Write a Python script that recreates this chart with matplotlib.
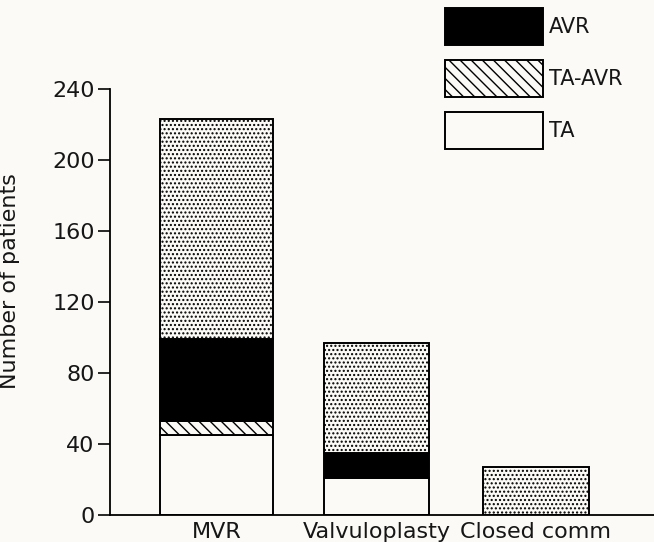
import matplotlib.pyplot as plt
import numpy as np
from matplotlib.patches import Patch

plt.rcParams["font.family"] = ["DejaVu Sans"]
plt.rcParams["hatch.linewidth"] = 1.0

procedures = ["MVR", "Valvuloplasty", "Closed comm"]

# stacked segments, bottom to top
ta = np.array([45, 21, 0])
ta_avr = np.array([8, 0, 0])
avr = np.array([46, 14, 0])
other = np.array([124, 62, 27])

widths = [0.71, 0.66, 0.66]
yticks = [0, 40, 80, 120, 160, 200, 240]

BG = "#fbfaf6"
INK = "#161616"


def main() -> None:
    fig = plt.figure(figsize=(6.54, 5.42), dpi=100, facecolor=BG)
    ax = fig.add_axes([0.168, 0.05, 0.832, 0.786], facecolor=BG)

    x = np.arange(len(procedures))
    bottom = np.zeros(len(procedures))
    segments = [
        (ta, dict(facecolor=BG, hatch=None)),
        (ta_avr, dict(facecolor=BG, hatch="\\\\\\")),
        (avr, dict(facecolor="black", hatch=None)),
        (other, dict(facecolor=BG, hatch="....")),
    ]
    for vals, style in segments:
        for i in range(len(procedures)):
            if vals[i] == 0:
                continue
            ax.bar(x[i], vals[i], width=widths[i], bottom=bottom[i],
                   edgecolor="black", linewidth=1.4, **style)
        bottom = bottom + vals

    ax.set_xlim(-0.67, 2.74)
    ax.set_ylim(0, 240)
    ax.set_yticks(yticks)
    ax.set_xticks(x, labels=procedures)
    ax.tick_params(axis="y", direction="out", length=9, width=1.3,
                   labelsize=16, pad=2, colors=INK)
    ax.tick_params(axis="x", length=0, labelsize=16, pad=5, colors=INK)

    ax.spines["top"].set_visible(False)
    ax.spines["right"].set_visible(False)
    ax.spines["left"].set_linewidth(1.3)
    ax.spines["bottom"].set_linewidth(1.3)

    ax.set_ylabel("Number of patients", fontsize=16, color=INK)
    ax.yaxis.set_label_coords(-0.165, 0.55)

    handles = [
        Patch(facecolor="black", edgecolor="black", linewidth=1.4, label="AVR"),
        Patch(facecolor=BG, edgecolor="black", linewidth=1.4, hatch="\\\\\\",
              label="TA-AVR"),
        Patch(facecolor=BG, edgecolor="black", linewidth=1.4, label="TA"),
    ]
    leg = fig.legend(handles=handles, loc="upper left",
                     bbox_to_anchor=(445 / 654, 1 - 8 / 542), frameon=False,
                     fontsize=15, handlelength=4.7, handleheight=2.35,
                     labelspacing=0.72, handletextpad=0.3, borderpad=0,
                     borderaxespad=0)
    for t in leg.get_texts():
        t.set_color(INK)

    fig.savefig("out.png", facecolor=BG)
    plt.close(fig)


if __name__ == "__main__":
    main()
